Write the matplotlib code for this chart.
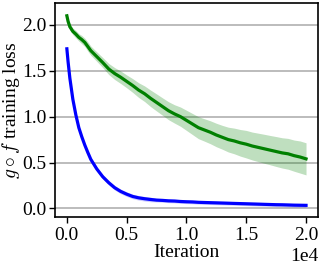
import matplotlib
matplotlib.use("Agg")
import matplotlib.pyplot as plt
import numpy as np

iterations = [0, 100, 250, 500, 750, 1000, 1250, 1500, 1750, 2000,
              2500, 3000, 3500, 4000, 4500, 5000, 5500, 6000, 6500, 7000,
              7500, 8000, 8500, 9000, 9500, 10000, 10500, 11000, 11500, 12000,
              12500, 13000, 13500, 14000, 14500, 15000, 15500, 16000, 16500, 17000,
              17500, 18000, 18500, 19000, 19500, 20000]

green_mean = [2.10, 2.04, 1.98, 1.93, 1.90, 1.865, 1.84, 1.81, 1.765, 1.72,
              1.655, 1.59, 1.52, 1.47, 1.43, 1.385, 1.34, 1.29, 1.25, 1.20,
              1.155, 1.11, 1.065, 1.03, 1.00, 0.96, 0.92, 0.88, 0.855, 0.83,
              0.80, 0.775, 0.75, 0.735, 0.715, 0.70, 0.68, 0.665, 0.65, 0.635,
              0.62, 0.605, 0.595, 0.575, 0.56, 0.54]
green_std = [0.03, 0.03, 0.035, 0.035, 0.04, 0.04, 0.045, 0.045, 0.05, 0.05,
             0.052, 0.055, 0.06, 0.065, 0.068, 0.07, 0.075, 0.08, 0.085, 0.09,
             0.093, 0.095, 0.098, 0.10, 0.105, 0.11, 0.115, 0.12, 0.122, 0.125,
             0.128, 0.13, 0.135, 0.14, 0.145, 0.15, 0.152, 0.155, 0.158, 0.16,
             0.163, 0.165, 0.168, 0.17, 0.175, 0.175]

blue_mean = [1.74, 1.60, 1.42, 1.19, 1.02, 0.88, 0.78, 0.69, 0.61, 0.535,
             0.43, 0.345, 0.28, 0.225, 0.185, 0.155, 0.13, 0.115, 0.105, 0.097,
             0.09, 0.087, 0.082, 0.08, 0.075, 0.072, 0.07, 0.066, 0.064, 0.062,
             0.06, 0.058, 0.056, 0.054, 0.052, 0.05, 0.048, 0.046, 0.044, 0.042,
             0.04, 0.039, 0.037, 0.035, 0.034, 0.033]
blue_std = [0.02] * 10 + [0.025] * 10 + [0.02] * 26

plt.rcParams['font.family'] = ['Liberation Serif', 'DejaVu Serif']
plt.rcParams['mathtext.fontset'] = 'cm'

fig = plt.figure(figsize=(3.23, 2.69), dpi=100)
ax = fig.add_axes([0.170, 0.193, 0.8145, 0.796])

x = np.array(iterations)
gm = np.array(green_mean); gs = np.array(green_std)
bm = np.array(blue_mean); bs = np.array(blue_std)

ax.fill_between(x, bm - bs, bm + bs, color='blue', alpha=0.2, lw=0)
ax.plot(x, bm, color='blue', lw=2.3)
ax.fill_between(x, gm - gs, gm + gs, color='green', alpha=0.25, lw=0)
ax.plot(x, gm, color='green', lw=2.3)

ax.set_xlim(-1000, 21000)
ax.set_ylim(-0.095, 2.24)
ax.set_yticks([0.0, 0.5, 1.0, 1.5, 2.0])
ax.set_xticks([0, 5000, 10000, 15000, 20000])
ax.ticklabel_format(axis='x', style='sci', scilimits=(0, 0))
ax.xaxis.get_offset_text().set_fontsize(14)
ax.yaxis.grid(True, color='#b0b0b0', lw=1.2)
ax.set_axisbelow(True)
ax.tick_params(labelsize=14, length=4, width=1, direction='out', pad=2)
ax.tick_params(axis='x', pad=3)
for lab in ax.get_xticklabels() + ax.get_yticklabels():
    lab.set_family(['Liberation Serif', 'DejaVu Serif'])
for s in ax.spines.values():
    s.set_color('black')
    s.set_linewidth(1.2)

ax.set_xlabel('Iteration', fontsize=14)
ax.set_ylabel(r'$g\circ f$ training loss', fontsize=14)
ax.xaxis.set_label_coords(0.5, -0.128)
ax.yaxis.set_label_coords(-0.125, 0.5)

fig.savefig('out.png', dpi=100)
